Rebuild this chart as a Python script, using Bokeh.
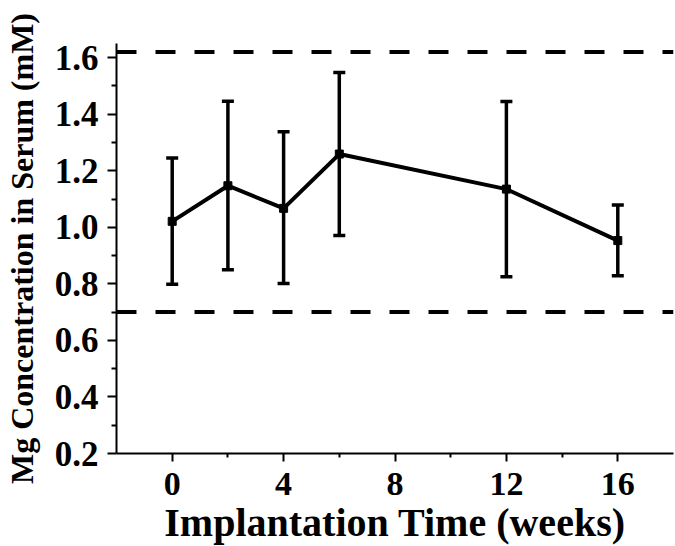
from bokeh.plotting import figure
from bokeh.models import (ColumnDataSource, Whisker, TeeHead, Span, FixedTicker,
                          CustomJSTickFormatter)
from bokeh.embed import file_html
from bokeh.resources import INLINE

# Data
weeks = [0, 2, 4, 6, 12, 16]
mg_mean = [1.021, 1.147, 1.067, 1.259, 1.135, 0.953]
mg_upper = [1.245, 1.446, 1.338, 1.547, 1.445, 1.079]
mg_lower = [0.799, 0.850, 0.801, 0.971, 0.825, 0.829]
normal_range = [0.70, 1.62]
x_ticks = [0, 4, 8, 12, 16]
x_minor = [2, 6, 10, 14]
y_ticks = [0.2, 0.4, 0.6, 0.8, 1.0, 1.2, 1.4, 1.6]
y_minor = [0.3, 0.5, 0.7, 0.9, 1.1, 1.3, 1.5]
x_title = "Implantation Time (weeks)"
y_title = "Mg Concentration in Serum (mM)"

FONT = "Liberation Serif"

p = figure(frame_width=557, frame_height=410, x_range=(-2, 18), y_range=(0.2, 1.65),
           output_backend="svg", toolbar_location=None,
           min_border_left=116, min_border_right=2, min_border_top=43,
           min_border_bottom=93)
p.outline_line_color = None
p.grid.visible = False
p.background_fill_color = "white"
p.border_fill_color = "white"

src = ColumnDataSource(dict(x=weeks, y=mg_mean, upper=mg_upper, lower=mg_lower))

for loc in normal_range:
    p.add_layout(Span(location=loc, dimension="width", line_color="black",
                      line_width=4, line_dash="20 19"))

w = Whisker(base="x", upper="upper", lower="lower", source=src,
            line_color="black", line_width=3.5,
            upper_head=TeeHead(size=12, line_width=3.5, line_color="black"),
            lower_head=TeeHead(size=12, line_width=3.5, line_color="black"))
p.add_layout(w)

p.line("x", "y", source=src, line_color="black", line_width=4)
p.scatter("x", "y", source=src, marker="square", size=8, color="black")

p.xaxis.ticker = FixedTicker(ticks=x_ticks, minor_ticks=x_minor)
p.yaxis.ticker = FixedTicker(ticks=y_ticks, minor_ticks=y_minor)
p.yaxis.formatter = CustomJSTickFormatter(code="return tick.toFixed(1);")

for ax in (p.xaxis[0], p.yaxis[0]):
    ax.axis_line_width = 2
    ax.axis_line_color = "black"
    ax.major_tick_line_width = 2
    ax.minor_tick_line_width = 2
    ax.major_tick_line_color = "black"
    ax.minor_tick_line_color = "black"
    ax.major_tick_in = 0
    ax.minor_tick_in = 0
    ax.major_label_text_font = FONT
    ax.major_label_text_font_style = "bold"
    ax.major_label_text_color = "black"
    ax.axis_label_text_font = FONT
    ax.axis_label_text_font_style = "bold"
    ax.axis_label_text_color = "black"

p.xaxis.major_label_text_font_size = "34px"
p.yaxis.major_label_text_font_size = "35px"
p.xaxis.major_tick_out = 8
p.xaxis.minor_tick_out = 4
p.yaxis.major_tick_out = 9
p.yaxis.minor_tick_out = 5
p.xaxis.major_label_standoff = 11
p.yaxis.major_label_standoff = 9
p.xaxis.axis_label = x_title
p.xaxis.axis_label_text_font_size = "40px"
p.xaxis.axis_label_standoff = 2
p.yaxis.axis_label = y_title
p.yaxis.axis_label_text_font_size = "32px"
p.yaxis.axis_label_standoff = 12

open("out.html", "w").write(file_html(p, INLINE))
